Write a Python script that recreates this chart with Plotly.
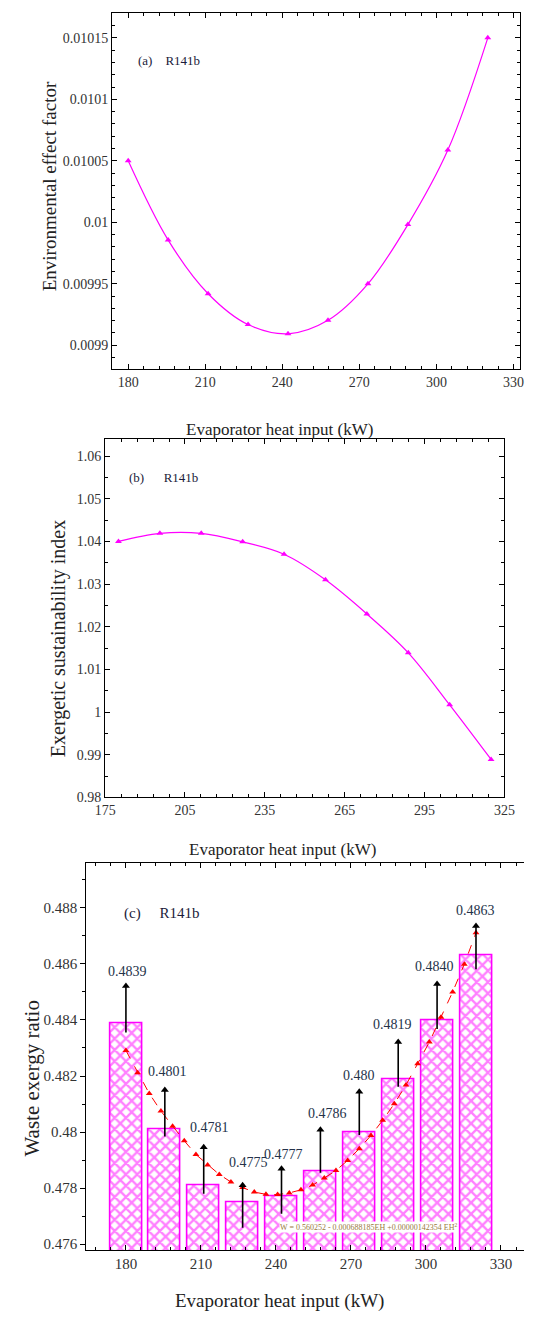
import plotly.graph_objects as go

# ---------------- data ----------------
eh = [180, 195.56, 211.11, 226.67, 242.22, 257.78, 273.33, 288.89, 304.44, 320]
env_factor = [0.01005, 0.0099855, 0.0099419, 0.0099168, 0.0099093,
              0.0099203, 0.0099499, 0.0099981, 0.0100587, 0.01015]
esi = [1.0400, 1.0419, 1.0419, 1.0399, 1.0370, 1.0310, 1.0230, 1.0139, 1.0017, 0.9889]

waste_bar = [0.4839, 0.4801, 0.4781, 0.4775, 0.4777, 0.4786, 0.4800, 0.4819, 0.4840, 0.4863]
waste_lbl = ["0.4839", "0.4801", "0.4781", "0.4775", "0.4777", "0.4786", "0.480", "0.4819", "0.4840", "0.4863"]
arrow_low = [0.48355, 0.47984, 0.4778, 0.47659, 0.47709, 0.47855, 0.47990, 0.48162, 0.48368, 0.48581]
arrow_high = [0.48521, 0.4815, 0.47946, 0.4781, 0.47869, 0.48008, 0.48144, 0.48321, 0.48528, 0.48735]

fit_x = [180, 184.67, 189.33, 194, 198.67, 203.33, 208, 212.67, 217.33, 222, 226.67,
         231.33, 236, 240.67, 245.33, 250, 254.67, 259.33, 264, 268.67, 273.33,
         278, 282.67, 287.33, 292, 296.67, 301.33, 306, 310.67, 315.33, 320]
fit_w = [0.48291, 0.48212, 0.48138, 0.48075, 0.48021, 0.47969, 0.47920, 0.47883, 0.47849,
         0.47822, 0.47802, 0.47786, 0.47778, 0.47777, 0.47783, 0.47794, 0.47811, 0.47836,
         0.47863, 0.47899, 0.47941, 0.47988, 0.48042, 0.48101, 0.48168, 0.48244, 0.48321,
         0.48410, 0.48500, 0.48599, 0.48711]

formula = "W = 0.560252 - 0.000688185EH +0.00000142354 EH<sup>2</sup>"

# label style offsets (px)
lbl_xshift = [2, 3, 6, 6, 2, 7, 0, -6, -3, 0]
lbl_yshift = [15, 19, 20, 23, 14, 16, 16, 18, 18, 16]

# ---------------- layout helpers ----------------
W, H = 534, 1323
SERIF = "Liberation Serif"
MAG = "#FF00FF"


def px(x):
    return x / W


def py(y):
    return 1 - y / H


fig = go.Figure()

# Panel (a)
fig.add_trace(go.Scatter(x=eh, y=env_factor, mode="lines+markers",
                         line=dict(color=MAG, width=1.2, shape="spline", smoothing=1.0),
                         marker=dict(symbol="triangle-up", size=6, color=MAG),
                         xaxis="x", yaxis="y", showlegend=False))
# Panel (b)
fig.add_trace(go.Scatter(x=eh, y=esi, mode="lines+markers",
                         line=dict(color=MAG, width=1.2, shape="spline", smoothing=1.0),
                         marker=dict(symbol="triangle-up", size=6, color=MAG),
                         xaxis="x2", yaxis="y2", showlegend=False))
# Panel (c) bars
fig.add_trace(go.Bar(x=eh, y=waste_bar, width=12.8,
                     marker=dict(color="white", line=dict(color=MAG, width=1.6),
                                 pattern=dict(shape="x", fgcolor=MAG, bgcolor="white",
                                              size=8, solidity=0.5)),
                     xaxis="x3", yaxis="y3", showlegend=False))
fig.add_trace(go.Scatter(x=fit_x, y=fit_w, mode="lines+markers",
                         line=dict(color="#FF0000", width=1, dash="dash"),
                         marker=dict(symbol="triangle-up", size=6, color="#FF0000"),
                         xaxis="x3", yaxis="y3", showlegend=False))

# black arrows: shafts + heads
shaft_x, shaft_y = [], []
for xv, lo, hi in zip(eh, arrow_low, arrow_high):
    shaft_x += [xv, xv, None]
    shaft_y += [lo, hi, None]
fig.add_trace(go.Scatter(x=shaft_x, y=shaft_y, mode="lines",
                         line=dict(color="black", width=1.6),
                         xaxis="x3", yaxis="y3", showlegend=False, hoverinfo="skip"))
fig.add_trace(go.Scatter(x=eh, y=arrow_high, mode="markers",
                         marker=dict(symbol="triangle-up", size=7, color="black"),
                         xaxis="x3", yaxis="y3", showlegend=False))

tickfont = dict(family=SERIF, size=14, color="#333333")
tickfont_c = dict(family=SERIF, size=15, color="#333333")


def xax(domain, anchor, rng, tick0, minor_tick0, font, ticklen=5):
    return dict(domain=domain, anchor=anchor, range=rng, tick0=tick0, dtick=30,
                ticks="inside", ticklen=ticklen, tickwidth=1, tickcolor="black",
                showline=True, linecolor="black", linewidth=1.2, mirror="allticks",
                showgrid=False, zeroline=False, tickfont=font,
                minor=dict(ticks="inside", ticklen=3, tick0=minor_tick0, dtick=6,
                           tickcolor="black", showgrid=False))


def yax(domain, anchor, rng, tick0, dtick, mtick, font, ticks="inside", mirror="allticks"):
    return dict(domain=domain, anchor=anchor, range=rng, tick0=tick0, dtick=dtick,
                ticks=ticks, ticklen=5, tickwidth=1, tickcolor="black",
                showline=True, linecolor="black", linewidth=1.2, mirror=mirror,
                showgrid=False, zeroline=False, tickfont=font, tickformat="~g",
                minor=dict(ticks=ticks, ticklen=3, tick0=tick0, dtick=mtick,
                           tickcolor="black", showgrid=False))


fig.update_layout(
    width=W, height=H, autosize=False,
    margin=dict(l=0, r=0, t=0, b=0),
    paper_bgcolor="white", plot_bgcolor="white",
    bargap=0,
    xaxis=xax([px(105.3), px(530)], "y", [173.75, 332.6], 180, 180, tickfont),
    yaxis=yax([py(371.7), py(12.7)], "x", [0.0098803, 0.0101705], 0.0099, 0.00005, 0.00001, tickfont),
    xaxis2=xax([px(98), px(513.6)], "y2", [175, 325], 175, 175, tickfont),
    yaxis2=yax([py(802.3), py(441.7)], "x2", [0.98, 1.064], 0.98, 0.01, 0.005, tickfont),
    xaxis3=xax([px(78.5), 1.0], "y3", [164.2, 339.2], 180, 180, tickfont_c),
    yaxis3=yax([py(1258), py(868.5)], "x3", [0.47578, 0.48959], 0.476, 0.002, 0.001, tickfont_c,
               ticks="outside", mirror=False),
)

ann = []
title_font = dict(family=SERIF, color="#222222")
# x-axis titles
for xc, yc, sz in [(280, 432, 17), (283, 855, 17), (280, 1309, 19)]:
    ann.append(dict(text="Evaporator heat input (kW)", x=px(xc), y=py(yc), xref="paper", yref="paper",
                    showarrow=False, xanchor="center", yanchor="middle",
                    font=dict(size=sz, **title_font)))
# y-axis titles
for txt, xc, yc, sz in [("Environmental effect factor", 40, 187, 19),
                        ("Exergetic sustainability index", 49, 643, 20),
                        ("Waste exergy ratio", 22, 1085, 21)]:
    ann.append(dict(text=txt, x=px(xc), y=py(yc), xref="paper", yref="paper", textangle=-90,
                    showarrow=False, xanchor="center", yanchor="middle",
                    font=dict(size=sz, **title_font)))
# panel tags
for txt, xl, yc, sz in [("(a)    R141b", 130, 61, 13), ("(b)      R141b", 121, 480, 13),
                        ("(c)     R141b", 116, 919, 15)]:
    ann.append(dict(text=txt, x=px(xl), y=py(yc), xref="paper", yref="paper",
                    showarrow=False, xanchor="left", yanchor="middle",
                    font=dict(size=sz, family=SERIF, color="#1b1b3a")))

# value labels in panel (c)
for i, xv in enumerate(eh):
    ann.append(dict(x=xv, y=arrow_high[i], xref="x3", yref="y3", text=waste_lbl[i],
                    showarrow=False, xanchor="center", yanchor="middle",
                    xshift=lbl_xshift[i], yshift=lbl_yshift[i],
                    font=dict(size=14, family=SERIF, color="#24324a")))
# formula
ann.append(dict(x=276.9, y=0.47663, xref="x3", yref="y3", text=formula, showarrow=False,
                xanchor="center", yanchor="middle", bgcolor="white", borderpad=0,
                font=dict(size=8, family=SERIF, color="#9a7b3c")))

fig.update_layout(annotations=ann)

fig.write_html("out.html", config={"displayModeBar": False},
               post_script="document.body.style.margin='0';")
